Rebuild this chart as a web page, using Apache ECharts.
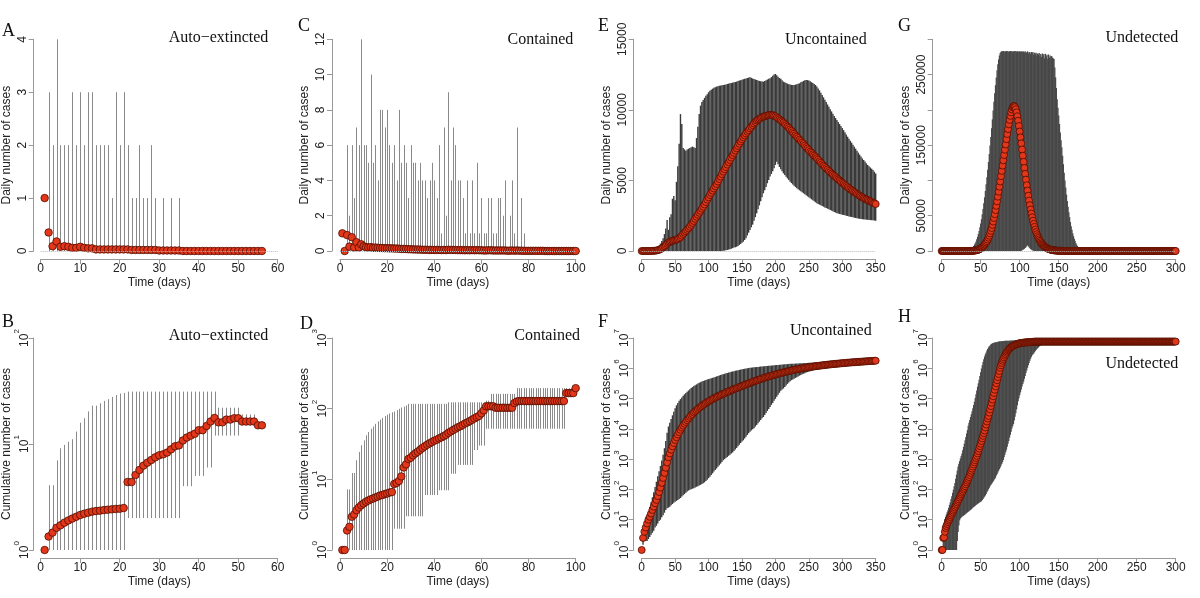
<!DOCTYPE html>
<html><head><meta charset="utf-8">
<script src="https://cdn.jsdelivr.net/npm/echarts/dist/echarts.min.js"></script>
<style>html,body{margin:0;padding:0;background:#fff}#c{width:1200px;height:598px}</style>
</head><body><div id="c"></div>
<script>
// ---------------- DATA ----------------
// Panel A: daily, auto-extincted (days 1..56)
const aMean = [1.0,0.35,0.09,0.18,0.08,0.09,0.08,0.06,0.06,0.08,
 0.06,0.05,0.05,0.03,0.03,0.03,0.03,0.03,0.03,0.03,
 0.03,0.03,0.02,0.02,0.02,0.02,0.02,0.02,0.02,0.01,
 0.01,0.01,0.01,0.01,0.01,0,0,0,0,0,
 0,0,0,0,0,0,0,0,0,0,
 0,0,0,0,0,0];
const aBarDays = [2,3,4,5,6,7,8,9,10,11,12,13,14,15,16,17,18,19,20,21,22,23,24,25,26,27,28,29,31,33,35];
const aBarHigh = [3,2,4,2,2,2,3,2,3,2,3,3,2,2,2,2,1,3,2,3,2,1,1,2,1,1,2,1,1,1,1];

// Panel B: cumulative, auto-extincted (days 1..56), bars days 2..54
const bMean = [1,1.34,1.46,1.62,1.71,1.81,1.90,1.98,2.06,2.14,
 2.20,2.25,2.30,2.33,2.35,2.38,2.40,2.42,2.44,2.45,
 2.49,4.38,4.38,5.1,5.69,6.25,6.67,7.06,7.48,7.82,
 7.99,8.3,8.9,9.5,9.7,10.8,11.5,12.0,12.5,13.5,
 13.5,14.8,16.3,17.6,16.0,16.0,17.0,17.0,17.5,17.5,
 16.3,16.3,16.3,16.3,15.0,15.0];
const bBarHigh = [4.08,4.08,7.0,9.1,9.8,10.5,11.1,13.1,15.9,17.5,
 20.3,23,23,24.2,25.5,26.5,27.8,29.0,29.9,30.3,
 31.2,31.2,31.2,31.2,31.2,31.2,31.2,31.2,31.2,31.2,
 31.2,31.2,31.2,31.2,31.2,31.2,31.2,31.2,31.2,31.2,
 31.2,31.2,31.2,22,22,22,22,22,22,19,19,19,19];
const bBarLow = [1,1,1,1,1,1,1,1,1,1,1,1,1,1,1,1,1,1,1,1,
 2,2,2,2,2,2,2,2,2,2,2,2,2,2,4,4,4,5,5,5,6,6,12,
 12,12,12,12,12,12,15,15,15,15];

// Panel C: daily, contained (days 1..100)
const cMean = [1.0,0,0.9,0.25,0.78,0.2,0.5,0.2,0.38,0.27,
 0.22,0.2,0.22,0.18,0.2,0.18,0.17,0.17,0.16,0.16,
 0.15,0.15,0.14,0.14,0.13,0.12,0.12,0.11,0.1,0.1,
 0.09,0.09,0.08,0.08,0.07,0.07,0.07,0.06,0.06,0.06,
 0.06,0.06,0.05,0.06,0.05,0.07,0.06,0.06,0.06,0.05,
 0.05,0.05,0.04,0.05,0.04,0.05,0.04,0.05,0.04,0.04,
 0.03,0.03,0.04,0.04,0.03,0.03,0.03,0.03,0.03,0.03,
 0.02,0.02,0.03,0.02,0.03,0.02,0.02,0.01,0.01,0.01,
 0.01,0.01,0.01,0.01,0.01,0.01,0,0,0,0,
 0,0,0,0,0,0,0,0,0,0];
const cBarDays = [3,4,5,6,7,8,9,10,11,12,13,14,15,16,17,18,19,20,21,22,
 23,24,25,26,27,28,29,30,31,32,33,34,35,36,37,38,39,40,41,42,
 43,44,45,46,47,48,49,50,51,52,53,54,55,56,57,58,59,60,61,62,
 63,64,65,66,67,68,69,70,72,73,74,75,77,78];
const cBarHigh = [6,2,6,3,7,6,12,6,6,5,10,5,6,4,8,8,7,8,6,5,
 6,4,8,5,6,5,3,6,5,5,4,5,4,4,3,4,5,4,3,6,
 1,7,2,9,4,7,6,4,4,3,1,4,1,4,1,5,1,3,1,1,
 3,3,1,1,3,3,2,4,2,4,1,7,3,1];

// Panel D: cumulative, contained (days 1..100), bars days 3..99
const dMean = [1,1,1.89,2.13,2.95,3.18,3.66,4.0,4.31,4.55,
 4.81,5.0,5.2,5.35,5.53,5.7,5.9,6.0,6.2,6.3,
 6.5,6.6,8.6,8.9,9.5,11,14.7,16.3,19.4,20.2,
 21.9,23.3,24.6,26.2,27.8,29.3,30.9,32.3,33.7,35.2,
 36.3,37.9,39.2,40.9,42.7,45.5,47.6,49.8,52.1,54.5,
 56.3,58.8,61.5,63.6,66.5,69.5,72.7,76,79,86,
 94.5,108,108,108,108,103,103,103,103,103,
 103,103,103,120,126,128,128,128,128,128,
 128,128,128,128,128,128,128,128,128,128,
 128,128,128,128,128,166,166,166,166,195];
const dBarHigh = [7.2,7.2,12.3,12.3,18.6,24.4,30.3,35.6,42,46.7,
 52,56,61,66,70,74,78.5,82,85.6,89,
 91,95.5,99.6,104,107,111,117,117,117,117,
 117,117,117,117,117,117,117,117,117,117,
 117,117,117,123,123,123,123,123,123,123,
 123,123,123,123,123,123,123,123,123,130,
 130,162,162,162,162,162,162,162,162,162,
 162,162,195,195,195,195,195,195,195,195,
 195,195,195,195,195,195,195,195,195,195,
 195,195,195,195,195,195,195];
const dBarLow = [1,1,1,1,1,1,1,1,1,1,
 1,1,1,1,1,1,1,1,1,1,
 2,2,2,2,2,3,3,3,3,3,
 3,3,3,6,6,6,6,6,6,7,
 7,7,7,7,12,12,12,16,16,16,
 16,16,16,16,26,26,30,30,30,52,
 52,52,52,52,52,52,52,52,52,52,
 52,52,52,52,52,52,52,52,52,52,
 52,52,52,52,52,52,52,52,52,52,
 52,52,52,166,166,166,166];

// Panel E: daily, uncontained (days 0..350 every 2 days)
const eMean = [0,0,0,0,1,2,3,5,8,13,
 20,35,55,85,130,190,260,340,420,510,
 600,650,690,720,750,780,810,850,900,980,
 1080,1200,1300,1400,1500,1610,1720,1850,1990,2130,
 2280,2430,2570,2710,2850,3000,3140,3300,3470,3640,
 3800,3970,4120,4280,4430,4590,4750,4920,5100,5270,
 5450,5620,5790,5950,6120,6290,6450,6620,6790,6950,
 7120,7280,7440,7600,7760,7910,8060,8190,8320,8450,
 8570,8690,8800,8920,9030,9140,9240,9310,9370,9430,
 9480,9520,9550,9580,9610,9630,9640,9640,9620,9590,
 9540,9470,9400,9330,9250,9180,9100,9000,8910,8810,
 8720,8620,8520,8410,8310,8200,8100,8000,7890,7790,
 7680,7580,7470,7360,7260,7150,7040,6950,6850,6760,
 6660,6570,6470,6360,6260,6150,6050,5960,5860,5770,
 5670,5580,5490,5410,5320,5240,5150,5070,4990,4910,
 4830,4750,4670,4600,4520,4450,4370,4300,4240,4170,
 4110,4040,3980,3920,3860,3800,3740,3700,3650,3610,
 3560,3520,3470,3420,3380,3330];
const eHigh = [0,5,10,15,20,30,40,50,70,90,
 130,190,260,380,520,700,900,1200,1600,2200,
 1500,2400,2600,3700,3900,3600,4900,6000,7600,9700,
 9000,7300,7200,7100,7200,7250,7300,7350,7400,7350,
 7300,8000,8800,9700,10300,10550,10700,10850,11000,11100,
 11250,11360,11420,11500,11560,11600,11650,11680,11700,11720,
 11740,11760,11780,11800,11830,11860,11880,11900,11930,11950,
 11980,12000,12050,12080,12100,12140,12170,12200,12230,12260,
 12290,12310,12270,12220,12180,12150,12120,12080,12050,12030,
 12010,12000,12050,12100,12150,12200,12240,12320,12420,12500,
 12540,12450,12350,12260,12200,12100,12000,11950,11900,11860,
 11820,11790,11770,11760,11770,11790,11820,11850,11880,11950,
 12000,12050,12100,12120,12110,12080,12020,11960,11900,11840,
 11760,11650,11520,11380,11220,11060,10890,10720,10550,10380,
 10220,10050,9890,9720,9560,9420,9280,9140,9000,8860,
 8720,8570,8420,8260,8100,7960,7820,7680,7530,7390,
 7250,7110,6970,6830,6690,6560,6450,6350,6210,6100,
 6000,5920,5830,5740,5620,5500];
const eLow = [0,0,0,0,0,0,0,0,0,0,
 0,0,0,0,0,0,0,0,0,0,
 0,0,0,0,0,0,0,0,0,0,
 0,0,0,0,0,0,0,0,0,0,
 0,0,0,0,0,0,0,0,0,0,
 0,0,0,0,0,0,0,0,0,0,
 0,20,30,50,70,100,120,160,200,240,
 270,300,360,430,500,580,660,780,900,1100,
 1300,1490,1680,1870,2150,2400,2670,2950,3230,3520,
 3800,4090,4310,4540,4800,5030,5270,5460,5650,5860,
 6100,6330,6150,5950,5800,5650,5500,5380,5260,5140,
 5030,4910,4810,4720,4620,4530,4440,4370,4300,4230,
 4160,4090,4020,3950,3870,3800,3730,3660,3590,3520,
 3450,3380,3330,3280,3240,3190,3140,3090,3050,3000,
 2960,2910,2860,2810,2770,2720,2670,2650,2620,2600,
 2570,2550,2530,2500,2480,2450,2430,2410,2390,2360,
 2340,2320,2300,2280,2260,2250,2240,2230,2220,2210,
 2200,2190,2180,2170,2160,2150];

// Panel F: cumulative, uncontained (days 0..350 every 2 days)
const fMean = [1,2.5,4,5.5,7.5,10,12.5,16,21,27,
 35,45,60,82,115,165,240,350,520,780,
 1150,1550,2050,2650,3400,4300,5300,6500,7800,9300,
 11000,12800,14800,17000,19400,22000,24800,27800,31000,34500,
 38000,41700,45500,49500,53500,57500,62000,66500,71000,76000,
 81000,86000,91000,96500,102000,107500,113000,119000,125000,131000,
 137500,144000,151000,158000,165000,172500,180000,188000,196000,204000,
 213000,222000,231000,240000,250000,260000,271000,282000,293000,305000,
 317000,330000,343000,356000,370000,384000,398000,413000,428000,443000,
 458000,474000,490000,506000,522000,539000,556000,573000,590000,607000,
 625000,643000,661000,679000,697000,715000,733000,752000,771000,790000,
 809000,828000,847000,866000,885000,904000,923000,942000,961000,980000,
 999000,1018000,1036000,1054000,1072000,1090000,1106000,1122000,1138000,1154000,
 1170000,1186000,1202000,1218000,1234000,1250000,1266000,1282000,1298000,1314000,
 1330000,1344000,1358000,1372000,1386000,1400000,1414000,1428000,1442000,1456000,
 1470000,1484000,1498000,1512000,1526000,1540000,1552000,1564000,1576000,1588000,
 1600000,1612000,1624000,1636000,1648000,1660000,1672000,1684000,1696000,1708000,
 1720000,1732000,1744000,1756000,1768000,1780000];
const fHigh = [1,3,5,8,12,18,26,38,55,80,
 120,180,270,400,600,900,1400,2300,4000,7500,
 12000,16000,21000,28000,37000,48000,60000,72000,84000,96000,
 108000,124000,138000,152000,168000,185000,205000,222000,240000,258000,
 276000,294000,312000,330000,348000,365000,380000,395000,410000,425000,
 440000,455000,470000,485000,500000,520000,540000,560000,580000,600000,
 620000,640000,660000,685000,705000,725000,745000,765000,785000,805000,
 825000,845000,865000,885000,905000,925000,945000,965000,985000,1000000,
 1020000,1035000,1050000,1065000,1080000,1090000,1100000,1112000,1124000,1136000,
 1148000,1160000,1172000,1184000,1196000,1208000,1220000,1232000,1244000,1256000,
 1268000,1280000,1292000,1304000,1316000,1328000,1340000,1352000,1364000,1376000,
 1388000,1400000,1408000,1416000,1424000,1432000,1440000,1448000,1456000,1464000,
 1472000,1480000,1488000,1496000,1504000,1512000,1520000,1528000,1536000,1544000,
 1552000,1560000,1568000,1576000,1584000,1592000,1600000,1609000,1618000,1627000,
 1636000,1645000,1654000,1663000,1672000,1681000,1690000,1699000,1708000,1717000,
 1726000,1735000,1744000,1753000,1762000,1771000,1780000,1789000,1798000,1807000,
 1816000,1825000,1834000,1843000,1852000,1861000,1870000,1879000,1888000,1897000,
 1906000,1915000,1924000,1933000,1942000,1951000];
const fLow = [1,1.5,2,2,2,2.3,2.7,3.2,3.7,4.3,
 5.5,6.3,7.5,9,10,12,14,17,21,24,
 25,27,30,33,36,39,42,45,48,52,
 58,64,70,78,86,92,97,102,106,110,
 115,122,128,135,142,150,160,172,190,210,
 235,260,300,340,390,440,490,560,630,710,
 810,920,1000,1090,1180,1290,1400,1530,1660,1850,
 2100,2350,2650,3000,3400,3850,4200,4800,5500,6300,
 7200,8000,8900,9700,10500,11900,13500,15300,17300,19600,
 22200,24600,28700,33500,39000,45500,53000,62000,72000,84000,
 98000,115000,134000,156000,180000,200000,215000,240000,270000,305000,
 340000,375000,405000,430000,455000,480000,510000,540000,570000,600000,
 630000,660000,690000,720000,750000,775000,800000,825000,850000,875000,
 900000,925000,950000,975000,1000000,1050000,1100000,1120000,1140000,1160000,
 1180000,1200000,1220000,1240000,1260000,1280000,1300000,1320000,1340000,1360000,
 1380000,1400000,1420000,1440000,1460000,1480000,1500000,1510000,1520000,1530000,
 1540000,1550000,1555000,1560000,1565000,1570000,1575000,1580000,1590000,1600000,
 1610000,1620000,1625000,1635000,1640000,1650000];

// Panel G: daily, undetected (days 0..300)
const gMean = [0,0,0,0,0,0,0,0,0,0,
 0,0,0,0,0,0,0,0,0,0,
 0,0,0,0,0,0,0,0,0,0,
 0,0,0,0,0,0,50,100,150,220,
 300,400,530,700,900,1150,1450,1800,2300,2900,
 3600,4400,5300,6400,7600,9000,10500,12200,14000,16200,
 18800,21700,25000,28600,32600,37000,41700,46800,52200,58000,
 64000,70300,77000,84000,91200,98500,106000,113500,121000,128500,
 136000,143500,151000,158500,165800,172800,179500,185800,191500,196500,
 200600,203600,205200,205300,203800,200800,196500,191000,184500,177200,
 169300,161000,152500,143800,135000,126300,117700,109300,101100,93200,
 85600,78300,71400,64900,58800,53100,47800,42900,38400,34200,
 30400,26900,23800,21000,18500,16200,14200,12400,10800,9400,
 8200,7100,6100,5300,4600,3900,3400,2900,2500,2100,
 1800,1500,1300,1100,900,800,650,550,450,380,
 320,260,220,180,150,120,100,80,65,50,
 40,30,20,15,10,5,0,0,0,0,
 0,0,0,0,0,0,0,0,0,0, 0,0,0,0,0,0,0,0,0,0,
 0,0,0,0,0,0,0,0,0,0, 0,0,0,0,0,0,0,0,0,0,
 0,0,0,0,0,0,0,0,0,0, 0,0,0,0,0,0,0,0,0,0,
 0,0,0,0,0,0,0,0,0,0, 0,0,0,0,0,0,0,0,0,0,
 0,0,0,0,0,0,0,0,0,0, 0,0,0,0,0,0,0,0,0,0,
 0,0,0,0,0,0,0,0,0,0, 0,0,0,0,0,0,0,0,0,0,
 0,0,0,0,0,0,0,0,0,0,
 0];
const gHigh = [0,0,0,0,0,0,0,0,0,0,
 0,0,0,0,0,0,0,0,0,0,
 0,0,0,0,0,0,0,0,0,0,
 0,100,200,400,700,1100,1600,2300,3200,4300,
 5600,7200,9000,11000,13500,16500,20000,24000,28500,33500,
 39000,45000,52000,59500,67500,76000,85000,94500,104500,115000,
 126000,137500,149500,161500,174000,186500,199000,211500,223500,235000,
 246000,256000,264500,271500,277000,280500,282500,283000,283000,283500,
 283000,282500,283000,283500,283000,283000,282500,283000,283500,283000,
 283000,282500,283000,283000,283500,283000,282500,283000,283000,282000,
 283000,282500,283000,282000,283000,282500,281500,283000,282000,281000,
 283000,280000,282000,281500,279500,282000,280500,282000,278000,281000,
 279500,281000,277000,280000,278500,280500,276000,279000,275000,280000,
 277000,279000,273000,279500,276000,278000,272000,278500,274000,277000,
 275000,276500,274000,273000,272000,260000,246000,231000,215000,203000,
 192000,180000,168000,157000,147000,135000,123000,111000,100000,90000,
 80000,71000,62600,55000,48000,41000,35000,30000,25000,21000,
 17500,14500,11500,9000,7000,5200,3800,2700,1800,1100,
 600,300,100,0,0,0,0,0,0,0,
 0,0,0,0,0,0,0,0,0,0, 0,0,0,0,0,0,0,0,0,0,
 0,0,0,0,0,0,0,0,0,0, 0,0,0,0,0,0,0,0,0,0,
 0,0,0,0,0,0,0,0,0,0, 0,0,0,0,0,0,0,0,0,0,
 0,0,0,0,0,0,0,0,0,0, 0,0,0,0,0,0,0,0,0,0,
 0,0,0,0,0,0,0,0,0,0, 0,0,0,0,0,0,0,0,0,0,
 0,0,0,0,0,0,0,0,0,0,
 0];
const gLow = [0,0,0,0,0,0,0,0,0,0, 0,0,0,0,0,0,0,0,0,0,
 0,0,0,0,0,0,0,0,0,0, 0,0,0,0,0,0,0,0,0,0,
 0,0,0,0,0,0,0,0,0,0, 0,0,0,0,0,0,0,0,0,0,
 0,0,0,0,0,0,0,0,0,0, 0,0,0,0,0,0,0,0,0,0,
 0,0,0,0,0,0,0,0,0,0, 0,0,0,0,0,0,0,0,0,0,
 0,0,500,1000,1600,2300,3100,4100,5300,6800,
 8500,6800,5200,3900,2800,1900,1200,700,300,100,
 0,0,0,0,0,0,0,0,0,0, 0,0,0,0,0,0,0,0,0,0,
 0,0,0,0,0,0,0,0,0,0, 0,0,0,0,0,0,0,0,0,0,
 0,0,0,0,0,0,0,0,0,0, 0,0,0,0,0,0,0,0,0,0,
 0,0,0,0,0,0,0,0,0,0, 0,0,0,0,0,0,0,0,0,0,
 0,0,0,0,0,0,0,0,0,0, 0,0,0,0,0,0,0,0,0,0,
 0,0,0,0,0,0,0,0,0,0, 0,0,0,0,0,0,0,0,0,0,
 0,0,0,0,0,0,0,0,0,0, 0,0,0,0,0,0,0,0,0,0,
 0];

// Panel H: cumulative, undetected (days 0..300)
const hMean = [1,1,2.5,2.6,4,5.3,6.2,7.2,8.3,9.4,
 10.6,12.2,13.8,15.7,17.8,20,22.6,25.5,28.9,32.7,
 37,41.8,47.2,53.6,60.7,69,78,88,100,113,
 128,147,169,194,223,256,300,352,413,485,
 570,670,787,925,1090,1280,1540,1850,2230,2690,
 3230,3950,4830,5900,7200,8800,11100,13900,17500,21900,
 26700,34300,44000,56500,72500,93000,119000,153000,196000,251000,
 322000,406000,512000,645000,815000,1.04e6,1.25e6,1.5e6,1.77e6,2.03e6,
 2.3e6,2.6e6,2.92e6,3.25e6,3.57e6,3.9e6,4.2e6,4.48e6,4.74e6,4.98e6,
 5.2e6,5.4e6,5.6e6,5.8e6,5.98e6,6.14e6,6.28e6,6.4e6,6.51e6,6.61e6,
 6.7e6,6.78e6,6.85e6,6.91e6,6.97e6,7.02e6,7.07e6,7.11e6,7.15e6,7.18e6,
 7.21e6,7.25e6,7.29e6,7.33e6,7.37e6,7.41e6,7.45e6,7.49e6,7.53e6,7.56e6,
 7.6e6,7.6e6,7.6e6,7.6e6,7.6e6,7.6e6,7.6e6,7.6e6,7.6e6,7.6e6, 7.6e6,7.6e6,7.6e6,7.6e6,7.6e6,7.6e6,7.6e6,7.6e6,7.6e6,7.6e6,
 7.6e6,7.6e6,7.6e6,7.6e6,7.6e6,7.6e6,7.6e6,7.6e6,7.6e6,7.6e6, 7.6e6,7.6e6,7.6e6,7.6e6,7.6e6,7.6e6,7.6e6,7.6e6,7.6e6,7.6e6,
 7.6e6,7.6e6,7.6e6,7.6e6,7.6e6,7.6e6,7.6e6,7.6e6,7.6e6,7.6e6, 7.6e6,7.6e6,7.6e6,7.6e6,7.6e6,7.6e6,7.6e6,7.6e6,7.6e6,7.6e6,
 7.6e6,7.6e6,7.6e6,7.6e6,7.6e6,7.6e6,7.6e6,7.6e6,7.6e6,7.6e6, 7.6e6,7.6e6,7.6e6,7.6e6,7.6e6,7.6e6,7.6e6,7.6e6,7.6e6,7.6e6,
 7.6e6,7.6e6,7.6e6,7.6e6,7.6e6,7.6e6,7.6e6,7.6e6,7.6e6,7.6e6, 7.6e6,7.6e6,7.6e6,7.6e6,7.6e6,7.6e6,7.6e6,7.6e6,7.6e6,7.6e6,
 7.6e6,7.6e6,7.6e6,7.6e6,7.6e6,7.6e6,7.6e6,7.6e6,7.6e6,7.6e6, 7.6e6,7.6e6,7.6e6,7.6e6,7.6e6,7.6e6,7.6e6,7.6e6,7.6e6,7.6e6,
 7.6e6,7.6e6,7.6e6,7.6e6,7.6e6,7.6e6,7.6e6,7.6e6,7.6e6,7.6e6, 7.6e6,7.6e6,7.6e6,7.6e6,7.6e6,7.6e6,7.6e6,7.6e6,7.6e6,7.6e6,
 7.6e6,7.6e6,7.6e6,7.6e6,7.6e6,7.6e6,7.6e6,7.6e6,7.6e6,7.6e6, 7.6e6,7.6e6,7.6e6,7.6e6,7.6e6,7.6e6,7.6e6,7.6e6,7.6e6,7.6e6,
 7.6e6,7.6e6,7.6e6,7.6e6,7.6e6,7.6e6,7.6e6,7.6e6,7.6e6,7.6e6, 7.6e6,7.6e6,7.6e6,7.6e6,7.6e6,7.6e6,7.6e6,7.6e6,7.6e6,7.6e6,
 7.6e6];
const hHigh = [1,1,3,5,10.6,12.5,14.8,17.5,20.7,25,
 31,38,48,60,77,98,127,164,225,308,
 420,570,700,860,1050,1280,1540,1970,2520,3250,
 4200,5400,7000,9100,12700,15800,19700,24500,30500,38000,
 48000,61000,79000,105000,140000,185000,245000,320000,420000,560000,
 740000,980000,1.25e6,1.6e6,2.0e6,2.45e6,2.9e6,3.35e6,3.85e6,4.35e6,
 4.9e6,5.3e6,5.7e6,6.05e6,6.4e6,6.65e6,6.9e6,7.0e6,7.1e6,7.2e6,
 7.3e6,7.4e6,7.5e6,7.6e6,7.7e6,7.75e6,7.8e6,7.85e6,7.9e6,8.0e6,
 8.02e6,8.04e6,8.06e6,8.08e6,8.1e6,8.12e6,8.14e6,8.16e6,8.18e6,8.2e6,
 8.22e6,8.24e6,8.26e6,8.28e6,8.3e6,8.32e6,8.34e6,8.36e6,8.38e6,8.4e6,
 8.42e6,8.44e6,8.46e6,8.48e6,8.5e6,8.5e6,8.5e6,8.5e6,8.5e6,8.5e6,
 8.5e6,8.5e6,8.5e6,8.5e6,8.5e6,8.5e6,8.5e6,8.5e6,8.5e6,8.5e6,
 8.5e6,8.5e6,8.5e6,8.5e6,8.5e6,8.5e6,8.5e6,8.5e6,8.5e6,8.5e6,
 8.5e6,8.5e6,8.5e6,8.5e6,8.5e6,8.5e6,8.5e6,8.5e6,8.5e6,8.5e6,
 8.5e6,8.5e6,8.5e6,8.5e6,8.5e6,8.5e6,8.5e6,8.2e6,7.9e6,7.7e6,
 7.6e6,7.6e6,7.6e6,7.6e6,7.6e6,7.6e6,7.6e6,7.6e6,7.6e6,7.6e6, 7.6e6,7.6e6,7.6e6,7.6e6,7.6e6,7.6e6,7.6e6,7.6e6,7.6e6,7.6e6,
 7.6e6,7.6e6,7.6e6,7.6e6,7.6e6,7.6e6,7.6e6,7.6e6,7.6e6,7.6e6, 7.6e6,7.6e6,7.6e6,7.6e6,7.6e6,7.6e6,7.6e6,7.6e6,7.6e6,7.6e6,
 7.6e6,7.6e6,7.6e6,7.6e6,7.6e6,7.6e6,7.6e6,7.6e6,7.6e6,7.6e6, 7.6e6,7.6e6,7.6e6,7.6e6,7.6e6,7.6e6,7.6e6,7.6e6,7.6e6,7.6e6,
 7.6e6,7.6e6,7.6e6,7.6e6,7.6e6,7.6e6,7.6e6,7.6e6,7.6e6,7.6e6, 7.6e6,7.6e6,7.6e6,7.6e6,7.6e6,7.6e6,7.6e6,7.6e6,7.6e6,7.6e6,
 7.6e6,7.6e6,7.6e6,7.6e6,7.6e6,7.6e6,7.6e6,7.6e6,7.6e6,7.6e6, 7.6e6,7.6e6,7.6e6,7.6e6,7.6e6,7.6e6,7.6e6,7.6e6,7.6e6,7.6e6,
 7.6e6,7.6e6,7.6e6,7.6e6,7.6e6,7.6e6,7.6e6,7.6e6,7.6e6,7.6e6, 7.6e6,7.6e6,7.6e6,7.6e6,7.6e6,7.6e6,7.6e6,7.6e6,7.6e6,7.6e6,
 7.6e6,7.6e6,7.6e6,7.6e6,7.6e6,7.6e6,7.6e6,7.6e6,7.6e6,7.6e6, 7.6e6,7.6e6,7.6e6,7.6e6,7.6e6,7.6e6,7.6e6,7.6e6,7.6e6,7.6e6,
 7.6e6,7.6e6,7.6e6,7.6e6,7.6e6,7.6e6,7.6e6,7.6e6,7.6e6,7.6e6,
 7.6e6];
const hLow = [1,1,1,1,1,1,1,1,1,1,
 1,1,1,1,1,1,1,1,1,1,
 2,3.9,6.5,9.5,11,11.8,12.5,13.1,13.6,14.3,
 15,15.8,16.6,17.5,18.4,19.2,20,21.1,22.3,23.5,
 24.8,26.2,27.6,29.1,30.5,32,33.4,34.9,36.4,38,
 39.5,41,44.5,48.5,53,58,63,71,80,90,
 101,114,128,140,153,168,184,202,222,244,
 290,320,365,415,470,530,600,690,800,930,
 1150,1400,1700,2050,2550,3200,4000,5100,6400,8100,
 10200,12200,14500,19000,25000,33000,44000,60000,81000,102000,
 128000,160000,200000,250000,300000,360000,450000,560000,700000,850000,
 1.04e6,1.25e6,1.5e6,1.78e6,2.08e6,2.4e6,2.7e6,2.9e6,3.1e6,3.4e6,
 3.7e6,4.0e6,4.3e6,4.6e6,4.9e6,5.2e6,5.5e6,5.7e6,5.85e6,6.0e6,
 6.15e6,6.3e6,6.45e6,6.6e6,6.75e6,6.9e6,6.95e6,7.0e6,7.05e6,7.1e6,
 7.15e6,7.2e6,7.25e6,7.3e6,7.35e6,7.4e6,7.45e6,7.5e6,7.55e6,7.6e6,
 7.6e6,7.6e6,7.6e6,7.6e6,7.6e6,7.6e6,7.6e6,7.6e6,7.6e6,7.6e6, 7.6e6,7.6e6,7.6e6,7.6e6,7.6e6,7.6e6,7.6e6,7.6e6,7.6e6,7.6e6,
 7.6e6,7.6e6,7.6e6,7.6e6,7.6e6,7.6e6,7.6e6,7.6e6,7.6e6,7.6e6, 7.6e6,7.6e6,7.6e6,7.6e6,7.6e6,7.6e6,7.6e6,7.6e6,7.6e6,7.6e6,
 7.6e6,7.6e6,7.6e6,7.6e6,7.6e6,7.6e6,7.6e6,7.6e6,7.6e6,7.6e6, 7.6e6,7.6e6,7.6e6,7.6e6,7.6e6,7.6e6,7.6e6,7.6e6,7.6e6,7.6e6,
 7.6e6,7.6e6,7.6e6,7.6e6,7.6e6,7.6e6,7.6e6,7.6e6,7.6e6,7.6e6, 7.6e6,7.6e6,7.6e6,7.6e6,7.6e6,7.6e6,7.6e6,7.6e6,7.6e6,7.6e6,
 7.6e6,7.6e6,7.6e6,7.6e6,7.6e6,7.6e6,7.6e6,7.6e6,7.6e6,7.6e6, 7.6e6,7.6e6,7.6e6,7.6e6,7.6e6,7.6e6,7.6e6,7.6e6,7.6e6,7.6e6,
 7.6e6,7.6e6,7.6e6,7.6e6,7.6e6,7.6e6,7.6e6,7.6e6,7.6e6,7.6e6, 7.6e6,7.6e6,7.6e6,7.6e6,7.6e6,7.6e6,7.6e6,7.6e6,7.6e6,7.6e6,
 7.6e6,7.6e6,7.6e6,7.6e6,7.6e6,7.6e6,7.6e6,7.6e6,7.6e6,7.6e6, 7.6e6,7.6e6,7.6e6,7.6e6,7.6e6,7.6e6,7.6e6,7.6e6,7.6e6,7.6e6,
 7.6e6,7.6e6,7.6e6,7.6e6,7.6e6,7.6e6,7.6e6,7.6e6,7.6e6,7.6e6,
 7.6e6];

// tick labels shown on the G y axis (R drops the overlapping ones)
const gYLabels = [0, 50000, 150000, 250000];
const panelTitles = ['Auto\u2212extincted','Contained','Uncontained','Undetected'];
const panelLetters = ['A','C','E','G','B','D','F','H'];

// ---------------- BUILD ----------------
function seq(start, end, step){ const r=[]; for(let d=start; d<=end; d+=step) r.push(d); return r; }
function zipPts(days, vals){ const n=Math.min(days.length, vals.length); const r=[]; for(let k=0;k<n;k++) r.push([days[k], vals[k]]); return r; }
function zipBars(days, lo, hi){ const n=Math.min(days.length, lo.length, hi.length); const r=[]; for(let k=0;k<n;k++) r.push([days[k], lo[k], hi[k]]); return r; }

const FONT = 'Liberation Sans', SERIF = 'Liberation Serif';
const TXT = '#222', AX = '#999';
const option = { animation:false, backgroundColor:'#fff', title:[], grid:[], xAxis:[], yAxis:[], series:[] };

function barRenderer(color, width, crisp){
  return function(params, api){
    const x = api.value(0), lo = api.value(1), hi = api.value(2);
    const p1 = api.coord([x, lo]), p2 = api.coord([x, hi]);
    let px = p1[0]; if (crisp) px = Math.round(px) + 0.5;
    return { type:'line', silent:true, shape:{x1:px, y1:p1[1], x2:px, y2:p2[1]}, style:{stroke:color, lineWidth:width} };
  };
}

const logRich = {
  b:{fontSize:12, fontFamily:FONT, color:TXT, lineHeight:18, verticalAlign:'bottom'},
  e:{fontSize:8, fontFamily:FONT, color:TXT, lineHeight:8, verticalAlign:'top'}
};

function addPanel(p){
  const i = option.grid.length;
  option.grid.push({left:p.left, top:p.top, width:p.width, height:p.height, containLabel:false, outerBoundsMode:'none'});
  option.xAxis.push({gridIndex:i, type:'value', min:0, max:p.xMax, interval:p.xInt, offset:8,
    axisLine:{show:true, onZero:false, lineStyle:{color:AX, width:1}},
    axisTick:{show:true, length:5, lineStyle:{color:AX}},
    axisLabel:{color:TXT, fontSize:12, fontFamily:FONT, margin:4, formatter:function(v){ return String(v); }},
    splitLine:{show:false},
    name:'Time (days)', nameLocation:'middle', nameGap:18, nameMoveOverlap:false,
    nameTextStyle:{color:TXT, fontSize:12, fontFamily:FONT}});
  const y = {gridIndex:i, type:p.log ? 'log' : 'value', min:p.yMin, max:p.yMax, interval:p.yInt, offset:p.yOff,
    axisLine:{show:true, onZero:false, lineStyle:{color:AX, width:1}},
    axisTick:{show:true, length:5, lineStyle:{color:AX}},
    axisLabel:{rotate:90, color:TXT, fontSize:12, fontFamily:FONT, margin:p.log ? 3 : 5},
    splitLine:{show:false},
    name:p.yName, nameLocation:'middle', nameGap:21, nameMoveOverlap:false,
    nameTextStyle:{color:TXT, fontSize:12, fontFamily:FONT}};
  if (p.log){
    y.logBase = 10;
    y.axisLabel.formatter = function(v){ return '{b|10}{e|' + Math.round(Math.log10(v)) + '}'; };
    y.axisLabel.rich = logRich;
  } else if (p.labelFilter){
    y.axisLabel.formatter = function(v){ return p.labelFilter.indexOf(v) >= 0 ? String(v) : ''; };
  } else {
    y.axisLabel.formatter = function(v){ return String(v); };
  }
  option.yAxis.push(y);
  option.series.push({type:'custom', xAxisIndex:i, yAxisIndex:i, silent:true, z:2,
    renderItem:barRenderer(p.barColor, p.barWidth, p.crisp),
    encode:{x:0, y:[1,2]}, data:p.bars});
  const sc = {type:'scatter', xAxisIndex:i, yAxisIndex:i, silent:true, z:3,
    symbol:'circle', symbolSize:p.dot,
    itemStyle:{color:'#e2371a', borderColor:'#4e0d00', borderWidth:0.8, opacity:1},
    data:p.pts};
  if (!p.log){
    sc.markLine = {silent:true, symbol:'none', label:{show:false}, animation:false,
      lineStyle:{type:'dotted', color:'#b8b8b8', width:1}, data:[{yAxis:0}]};
  }
  option.series.push(sc);
}

const L = [40.7, 340, 641.7, 941.7], W = [237, 235.7, 234, 234];
const TOP1 = 39.3, H1 = 211.7, TOP2 = 338, H2 = 212;
const DAILY = 'Daily number of cases', CUM = 'Cumulative number of cases';
const eDays = seq(0, 350, 2), gDays = seq(0, 300, 1);

addPanel({left:L[0], top:TOP1, width:W[0], height:H1, xMax:60, xInt:10, yMin:0, yMax:4, yInt:1, yOff:7, yName:DAILY,
  pts:zipPts(seq(1,56,1), aMean), bars:zipBars(aBarDays, aBarDays.map(()=>0), aBarHigh), barColor:'#8a8a8a', barWidth:1, crisp:true, dot:7.5});
addPanel({left:L[1], top:TOP1, width:W[1], height:H1, xMax:100, xInt:20, yMin:0, yMax:12, yInt:2, yOff:8, yName:DAILY,
  pts:zipPts(seq(1,100,1), cMean), bars:zipBars(cBarDays, cBarDays.map(()=>0), cBarHigh), barColor:'#8a8a8a', barWidth:1, crisp:true, dot:7.5});
addPanel({left:L[2], top:TOP1, width:W[2], height:H1, xMax:350, xInt:50, yMin:0, yMax:15000, yInt:5000, yOff:8, yName:DAILY,
  pts:zipPts(eDays, eMean), bars:zipBars(eDays, eLow, eHigh), barColor:'#3a3a3a', barWidth:1.4, crisp:false, dot:7});
addPanel({left:L[3], top:TOP1, width:W[3], height:H1, xMax:300, xInt:50, yMin:0, yMax:300000, yInt:50000, yOff:9, yName:DAILY,
  labelFilter:gYLabels,
  pts:zipPts(gDays, gMean), bars:zipBars(gDays, gLow, gHigh), barColor:'#484848', barWidth:1.3, crisp:false, dot:7});
addPanel({left:L[0], top:TOP2, width:W[0], height:H2, xMax:60, xInt:10, log:true, yMin:1, yMax:100, yInt:1, yOff:7, yName:CUM,
  pts:zipPts(seq(1,56,1), bMean), bars:zipBars(seq(2,54,1), bBarLow, bBarHigh), barColor:'#8a8a8a', barWidth:1, crisp:true, dot:7.5});
addPanel({left:L[1], top:TOP2, width:W[1], height:H2, xMax:100, xInt:20, log:true, yMin:1, yMax:1000, yInt:1, yOff:8, yName:CUM,
  pts:zipPts(seq(1,100,1), dMean), bars:zipBars(seq(3,99,1), dBarLow, dBarHigh), barColor:'#8a8a8a', barWidth:1, crisp:true, dot:7.5});
addPanel({left:L[2], top:TOP2, width:W[2], height:H2, xMax:350, xInt:50, log:true, yMin:1, yMax:1e7, yInt:1, yOff:8, yName:CUM,
  pts:zipPts(eDays, fMean), bars:zipBars(eDays, fLow, fHigh), barColor:'#3a3a3a', barWidth:1.4, crisp:false, dot:7});
addPanel({left:L[3], top:TOP2, width:W[3], height:H2, xMax:300, xInt:50, log:true, yMin:1, yMax:1e7, yInt:1, yOff:9, yName:CUM,
  pts:zipPts(gDays, hMean), bars:zipBars(gDays, hLow, hHigh), barColor:'#484848', barWidth:1.3, crisp:false, dot:7});

// panel letters and scenario titles
const letterPos = [[2,22],[298,17],[598,17],[898,17],[2,313],[300,315],[598,313],[898,308]];
panelLetters.forEach((t,k)=>{
  option.title.push({text:t, left:letterPos[k][0], top:letterPos[k][1], padding:0,
    textStyle:{fontFamily:SERIF, fontSize:18, fontWeight:'normal', color:'#111', lineHeight:18}});
});
const headPos = [[268.3,30],[573.3,32],[866.7,32],[1178.3,30],[268.3,328],[580,328],[871.7,323],[1178.3,356]];
headPos.forEach((p,k)=>{
  option.title.push({text:panelTitles[k % 4], right:1200 - p[0], top:p[1], padding:0,
    textStyle:{fontFamily:SERIF, fontSize:16, fontWeight:'normal', color:'#111', lineHeight:16}});
});

const chart = echarts.init(document.getElementById('c'), null, {renderer:'canvas', width:1200, height:598});
chart.setOption(option);
</script></body></html>
